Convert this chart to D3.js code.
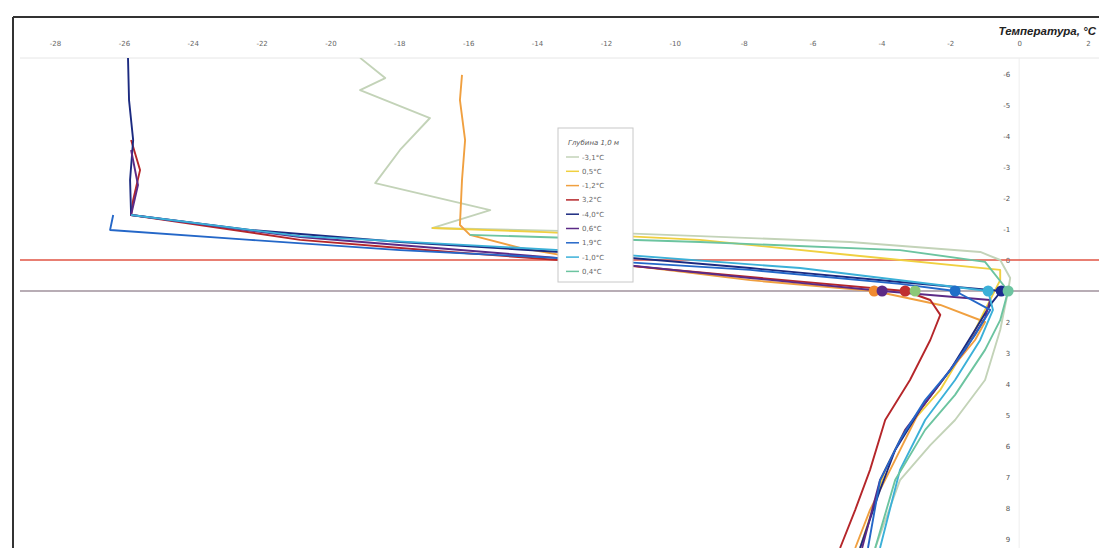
<!DOCTYPE html>
<html><head><meta charset="utf-8">
<script src="https://cdn.jsdelivr.net/npm/d3@7/dist/d3.min.js"></script>
<style>body{margin:0;background:#fff;}svg{display:block;}</style>
</head><body>
<svg id="c" width="1099" height="548"></svg>
<script>
// ---- data: [temperature °C, depth] pairs ----
const xTicks = [-28,-26,-24,-22,-20,-18,-16,-14,-12,-10,-8,-6,-4,-2,0,2];
const yTicks = [-6,-5,-4,-3,-2,-1,0,1,2,3,4,5,6,7,8,9];
const legendLabels = ["-3,1°C","0,5°C","-1,2°C","3,2°C","-4,0°C","0,6°C","1,9°C","-1,0°C","0,4°C"];
const legendTitle = "Глубина 1,0 м";
const colors = ["#c3d3b8","#f0d040","#f0a040","#b5262a","#1b2a80","#5b2a86","#2467c8","#3bb0d8","#6cc4a0"];

const sGrey = [[-19.14,-6.52],[-18.41,-5.87],[-19.14,-5.48],[-17.11,-4.58],[-17.98,-3.55],[-18.70,-2.48],[-15.36,-1.61],[-17.05,-1.03],[-13.33,-0.94],[-9.27,-0.77],[-4.91,-0.58],[-1.13,-0.26],[-0.55,0.0],[-0.26,0.58],[-0.32,1.0],[-0.55,2.26],[-0.99,3.87],[-1.86,5.16],[-2.58,5.97],[-3.46,7.10],[-4.18,9.29]];
const sYellow = [[-17.05,-1.03],[-13.77,-0.90],[-9.27,-0.65],[-4.91,-0.16],[-0.55,0.32],[-0.55,0.65],[-0.99,1.61],[-1.42,2.58],[-2.29,4.19],[-3.31,5.48],[-3.89,6.77],[-4.62,9.29]];
const sOrange = [[-16.18,-5.97],[-16.24,-5.16],[-16.09,-3.87],[-16.18,-2.58],[-16.24,-1.13],[-15.95,-0.81],[-14.49,-0.39],[-12.17,0.06],[-7.81,0.65],[-4.21,1.0],[-2.29,1.45],[-0.99,2.00],[-1.28,2.58],[-2.00,3.55],[-2.88,4.84],[-3.60,6.45],[-4.33,8.06],[-4.76,9.29]];
const sRed = [[-25.79,-3.87],[-25.53,-2.90],[-25.73,-1.94],[-25.79,-1.45],[-23.80,-1.13],[-20.88,-0.65],[-16.53,-0.26],[-12.17,0.10],[-7.81,0.55],[-3.31,1.0],[-2.58,1.29],[-2.29,1.77],[-2.58,2.58],[-3.17,3.87],[-3.89,5.16],[-4.33,6.77],[-4.76,8.06],[-5.20,9.29]];
const sNavy = [[-25.88,-6.52],[-25.85,-5.16],[-25.73,-3.87],[-25.82,-2.58],[-25.79,-1.45],[-22.34,-0.97],[-17.98,-0.58],[-13.33,-0.26],[-7.81,0.26],[-3.46,0.71],[-0.52,1.0],[-0.84,1.45],[-1.28,2.26],[-2.00,3.55],[-2.88,4.84],[-3.60,6.13],[-4.04,7.42],[-4.62,9.29]];
const sPurple = [[-25.79,-3.55],[-25.59,-2.42],[-25.79,-1.45],[-20.88,-0.74],[-13.33,-0.06],[-7.81,0.58],[-3.98,1.0],[-0.84,1.29],[-0.99,1.87],[-1.57,2.90],[-2.44,4.19],[-3.31,5.48],[-4.04,7.10],[-4.56,9.29]];
const sBlue = [[-26.31,-1.45],[-26.40,-0.97],[-22.34,-0.65],[-17.98,-0.32],[-13.33,-0.06],[-7.81,0.32],[-3.46,0.77],[-1.86,1.0],[-0.84,1.61],[-1.28,2.42],[-2.00,3.55],[-2.73,4.52],[-3.46,5.81],[-4.04,7.10],[-4.39,9.29]];
const sCyan = [[-25.79,-1.45],[-20.88,-0.77],[-13.33,-0.32],[-6.36,0.26],[-0.90,1.0],[-0.76,1.61],[-1.13,2.58],[-1.86,3.87],[-2.73,5.16],[-3.46,6.77],[-4.04,9.29]];
const sTeal = [[-15.95,-0.81],[-9.27,-0.58],[-3.46,-0.32],[-0.99,0.06],[-0.32,1.0],[-0.55,1.94],[-0.99,2.90],[-1.86,4.35],[-2.73,5.48],[-3.60,7.10],[-4.18,9.29]];
const series = [sGrey,sYellow,sOrange,sRed,sNavy,sPurple,sBlue,sCyan,sTeal];

const dotTemps = [-4.21,-3.98,-3.31,-3.02,-1.86,-0.90,-0.52,-0.32];
const dotColors = ["#f08a30","#5b2a86","#c03030","#8cc878","#1f6fc8","#3bb0d8","#1b2a90","#6cc4a0"];
const dotDepth = 1;

// ---- drawing ----
const svg = d3.select("#c");
const x = d3.scaleLinear().domain([-28,2]).range([55,1088]);
const y = d3.scaleLinear().domain([-6,9]).range([74,539]);

svg.append("defs").append("clipPath").attr("id","clip")
  .append("rect").attr("x",14).attr("y",58).attr("width",1085).attr("height",490);

// frame
svg.append("line").attr("x1",13).attr("x2",1099).attr("y1",17).attr("y2",17).attr("stroke","#333").attr("stroke-width",2);
svg.append("line").attr("x1",13).attr("x2",13).attr("y1",17).attr("y2",548).attr("stroke","#333").attr("stroke-width",2);

svg.append("text").attr("x",1096).attr("y",35).attr("text-anchor","end").attr("font-family","Liberation Sans, Arial, sans-serif")
  .attr("font-size",11.5).attr("font-weight","bold").attr("font-style","italic").attr("fill","#222").text("Температура, °С");

// top axis
const xAxis = d3.axisTop(x).tickValues(xTicks).tickSize(0).tickFormat(d=>d);
const gx = svg.append("g").attr("transform","translate(0,58)").call(xAxis);
gx.select(".domain").attr("stroke","#e6e6e6").attr("d","M20,0H1099");
gx.selectAll("text").attr("dy",-9).attr("font-size",7).attr("fill","#666").attr("font-family","DejaVu Sans, sans-serif");

// vertical axis at t=0
const yAxis = d3.axisLeft(y).tickValues(yTicks.filter(v=>v!==1)).tickSize(0).tickFormat(d=>d);
const gy = svg.append("g").attr("transform",`translate(${x(0)},0)`).call(yAxis);
gy.select(".domain").attr("stroke","#eee").attr("d",`M0,58V548`);
gy.selectAll("text").attr("dx",-6).attr("font-size",7).attr("fill","#555").attr("font-family","DejaVu Sans, sans-serif");

// reference lines
svg.append("line").attr("x1",20).attr("x2",1099).attr("y1",y(0)).attr("y2",y(0)).attr("stroke","#e05545").attr("stroke-width",1.5);
svg.append("line").attr("x1",20).attr("x2",1099).attr("y1",y(1)).attr("y2",y(1)).attr("stroke","#b8adb5").attr("stroke-width",1.8);

// series lines
const line = d3.line().x(d=>x(d[0])).y(d=>y(d[1]));
const gl = svg.append("g").attr("clip-path","url(#clip)");
series.forEach((s,i)=>{
  gl.append("path").datum(s).attr("d",line).attr("fill","none")
    .attr("stroke",colors[i]).attr("stroke-width",1.9).attr("stroke-linejoin","round");
});

// interface markers
svg.append("g").selectAll("circle").data(dotTemps).join("circle")
  .attr("cx",d=>x(d)).attr("cy",y(dotDepth)).attr("r",5.5).attr("fill",(d,i)=>dotColors[i]);

// legend
const lg = svg.append("g").attr("transform","translate(558,128)");
lg.append("rect").attr("width",75).attr("height",154).attr("fill","#fff").attr("stroke","#c8c8c8");
lg.append("text").attr("x",10).attr("y",17).attr("font-size",7).attr("font-style","italic").attr("fill","#555")
  .attr("font-family","DejaVu Sans, sans-serif").text(legendTitle);
legendLabels.forEach((l,i)=>{
  const yy = 29 + i*14.3;
  lg.append("line").attr("x1",8).attr("x2",21).attr("y1",yy).attr("y2",yy).attr("stroke",colors[i]).attr("stroke-width",1.5);
  lg.append("text").attr("x",24).attr("y",yy+2.5).attr("font-size",7).attr("fill","#666")
    .attr("font-family","DejaVu Sans, sans-serif").text(l);
});
</script>
</body></html>
